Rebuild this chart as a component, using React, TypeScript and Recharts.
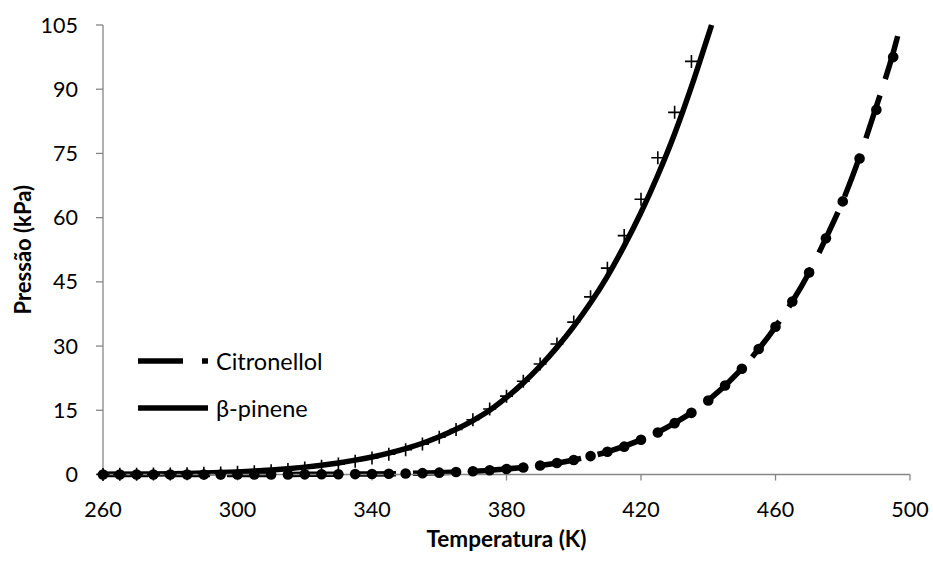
import React from 'react';
import { ComposedChart, Line, XAxis, YAxis, Legend, Label } from 'recharts';

const FONT = 'Lato, "Open Sans", sans-serif';
const AXIS_GRAY = '#868686';

const xTicks = [260, 300, 340, 380, 420, 460, 500];
const yTicks = [0, 15, 30, 45, 60, 75, 90, 105];

// β-pinene experimental points (+ markers)
const pineneT = [260, 265, 270, 275, 280, 285, 290, 295, 300, 305, 310, 315, 320, 325, 330, 335, 340, 345, 350, 355, 360, 365, 370, 375, 380, 385, 390, 395, 400, 405, 410, 415, 420, 425, 430, 435];
const pineneP = [0.02, 0.04, 0.06, 0.09, 0.13, 0.19, 0.27, 0.37, 0.5, 0.67, 0.9, 1.18, 1.52, 1.95, 2.47, 3.1, 3.85, 4.75, 5.8, 7.1, 8.7, 10.5, 12.8, 15.3, 18.3, 21.8, 25.8, 30.5, 35.6, 41.5, 48.2, 55.8, 64.3, 74.0, 84.6, 96.5];

// β-pinene fitted curve (solid line), up to the top of the plot
const pineneFitT = [260, 265, 270, 275, 280, 285, 290, 295, 300, 305, 310, 315, 320, 325, 330, 335, 340, 345, 350, 355, 360, 365, 370, 375, 380, 385, 390, 395, 400, 405, 410, 415, 420, 425, 430, 435, 440, 441];
const pineneFitP = [0.03, 0.05, 0.08, 0.12, 0.17, 0.24, 0.33, 0.45, 0.6, 0.8, 1.05, 1.35, 1.72, 2.17, 2.7, 3.35, 4.1, 5.0, 6.05, 7.3, 8.8, 10.55, 12.6, 15.0, 18.0, 21.4, 25.3, 29.7, 34.6, 40.1, 46.3, 53.4, 61.2, 69.9, 79.6, 90.6, 102.6, 105];

// Citronellol experimental points (filled circles)
const citroT = [260, 265, 270, 275, 280, 285, 290, 295, 300, 305, 310, 315, 320, 325, 330, 335, 340, 345, 350, 355, 360, 365, 370, 375, 380, 385, 390, 395, 400, 405, 410, 415, 420, 425, 430, 435, 440, 445, 450, 455, 460, 465, 470, 475, 480, 485, 490, 495];
const citroP = [0, 0, 0, 0.001, 0.001, 0.002, 0.003, 0.004, 0.006, 0.009, 0.014, 0.021, 0.031, 0.045, 0.064, 0.09, 0.125, 0.17, 0.24, 0.32, 0.43, 0.57, 0.75, 0.98, 1.28, 1.65, 2.1, 2.7, 3.4, 4.3, 5.3, 6.5, 8.1, 9.8, 12.0, 14.4, 17.3, 20.8, 24.7, 29.3, 34.5, 40.4, 47.2, 55.2, 63.8, 73.8, 85.2, 97.5];

// Citronellol fitted curve (dashed line), up to the top of the plot
const citroFitT = [260, 270, 280, 290, 300, 310, 320, 330, 340, 350, 360, 370, 380, 390, 400, 410, 420, 430, 440, 450, 460, 465, 470, 475, 480, 485, 490, 495, 497.2];
const citroFitP = [0, 0, 0.001, 0.003, 0.006, 0.014, 0.031, 0.064, 0.125, 0.24, 0.43, 0.75, 1.28, 2.1, 3.4, 5.3, 8.1, 12.0, 17.3, 24.7, 34.5, 40.4, 47.2, 55.2, 63.9, 74.2, 86.0, 98.5, 105];

const seriesNames = ['Citronellol', 'β-pinene'];

const toRows = (ts: number[], ps: number[]) => ts.map((t, i) => ({ T: t, P: ps[i] }));

const pineneData = toRows(pineneT, pineneP);
const pineneFit = toRows(pineneFitT, pineneFitP);
const citroData = toRows(citroT, citroP);
const citroFit = toRows(citroFitT, citroFitP);

const PlusDot = (props: any) => {
  const { cx, cy } = props;
  if (cx == null || cy == null) return null;
  return (
    <path
      d={`M${cx - 6.5},${cy}h13M${cx},${cy - 6.5}v13`}
      stroke="#000"
      strokeWidth={1.6}
      fill="none"
    />
  );
};

const CircleDot = (props: any) => {
  const { cx, cy } = props;
  if (cx == null || cy == null) return null;
  return <circle cx={cx} cy={cy} r={5.3} fill="#000" stroke="none" />;
};

const legendDash: Record<string, string | undefined> = {
  Citronellol: '45 19',
  'β-pinene': undefined,
};

const renderLegend = () => (
  <div style={{ fontFamily: FONT, fontSize: 23.5, color: '#000' }}>
    {seriesNames.map((name) => (
      <div key={name} style={{ display: 'flex', alignItems: 'center', height: 47 }}>
        <svg width={78} height={12} style={{ display: 'block' }}>
          <line x1={0} y1={6} x2={70} y2={6} stroke="#000" strokeWidth={5.5} strokeDasharray={legendDash[name]} />
        </svg>
        <span style={{ lineHeight: '26px' }}>{name}</span>
      </div>
    ))}
  </div>
);

const XTitle = (props: any) => {
  const vb = props.viewBox || {};
  return (
    <text
      x={vb.x + vb.width / 2}
      y={vb.y + vb.height - 15}
      textAnchor="middle"
      fontFamily={FONT}
      fontSize={22.5}
      fontWeight="bold"
      fill="#000"
    >
      Temperatura (K)
    </text>
  );
};

const YTitle = (props: any) => {
  const vb = props.viewBox || {};
  const x = vb.x + 22;
  const y = vb.y + vb.height / 2;
  return (
    <text
      x={x}
      y={y}
      transform={`rotate(-90, ${x}, ${y})`}
      textAnchor="middle"
      dominantBaseline="central"
      fontFamily={FONT}
      fontSize={22}
      fontWeight="bold"
      fill="#000"
    >
      Pressão (kPa)
    </text>
  );
};

export default function App() {
  const tickStyle = { fontFamily: FONT, fontSize: 21.5, fill: '#000' };
  return (
    <div style={{ position: 'absolute', left: 0, top: 0, background: '#fff' }}>
      <ComposedChart width={933} height={562} margin={{ top: 25, right: 23, bottom: 0, left: 0 }}>
        <XAxis
          type="number"
          dataKey="T"
          domain={[260, 500]}
          ticks={xTicks}
          height={87.5}
          tickSize={6}
          tickMargin={21.5}
          stroke={AXIS_GRAY}
          strokeWidth={1.3}
          tick={tickStyle}
        >
          <Label content={<XTitle />} />
        </XAxis>
        <YAxis
          type="number"
          dataKey="P"
          domain={[0, 105]}
          ticks={yTicks}
          width={103}
          tickSize={7}
          tickMargin={18}
          stroke={AXIS_GRAY}
          strokeWidth={1.3}
          tick={tickStyle}
        >
          <Label content={<YTitle />} />
        </YAxis>
        <Legend
          layout="vertical"
          align="center"
          verticalAlign="middle"
          content={renderLegend}
          wrapperStyle={{ left: 138, top: 337.5, width: 240, height: 94 }}
        />
        <Line
          data={citroFit}
          dataKey="P"
          name="Citronellol"
          type="monotone"
          stroke="#000"
          strokeWidth={5.5}
          strokeDasharray="45 17"
          dot={false}
          activeDot={false}
          isAnimationActive={false}
        />
        <Line
          data={pineneFit}
          dataKey="P"
          name="β-pinene"
          type="monotone"
          stroke="#000"
          strokeWidth={5.5}
          dot={false}
          activeDot={false}
          isAnimationActive={false}
        />
        <Line
          data={citroData}
          dataKey="P"
          name="Citronellol (exp)"
          stroke="none"
          legendType="none"
          dot={<CircleDot />}
          activeDot={false}
          isAnimationActive={false}
        />
        <Line
          data={pineneData}
          dataKey="P"
          name="β-pinene (exp)"
          stroke="none"
          legendType="none"
          dot={<PlusDot />}
          activeDot={false}
          isAnimationActive={false}
        />
      </ComposedChart>
    </div>
  );
}
